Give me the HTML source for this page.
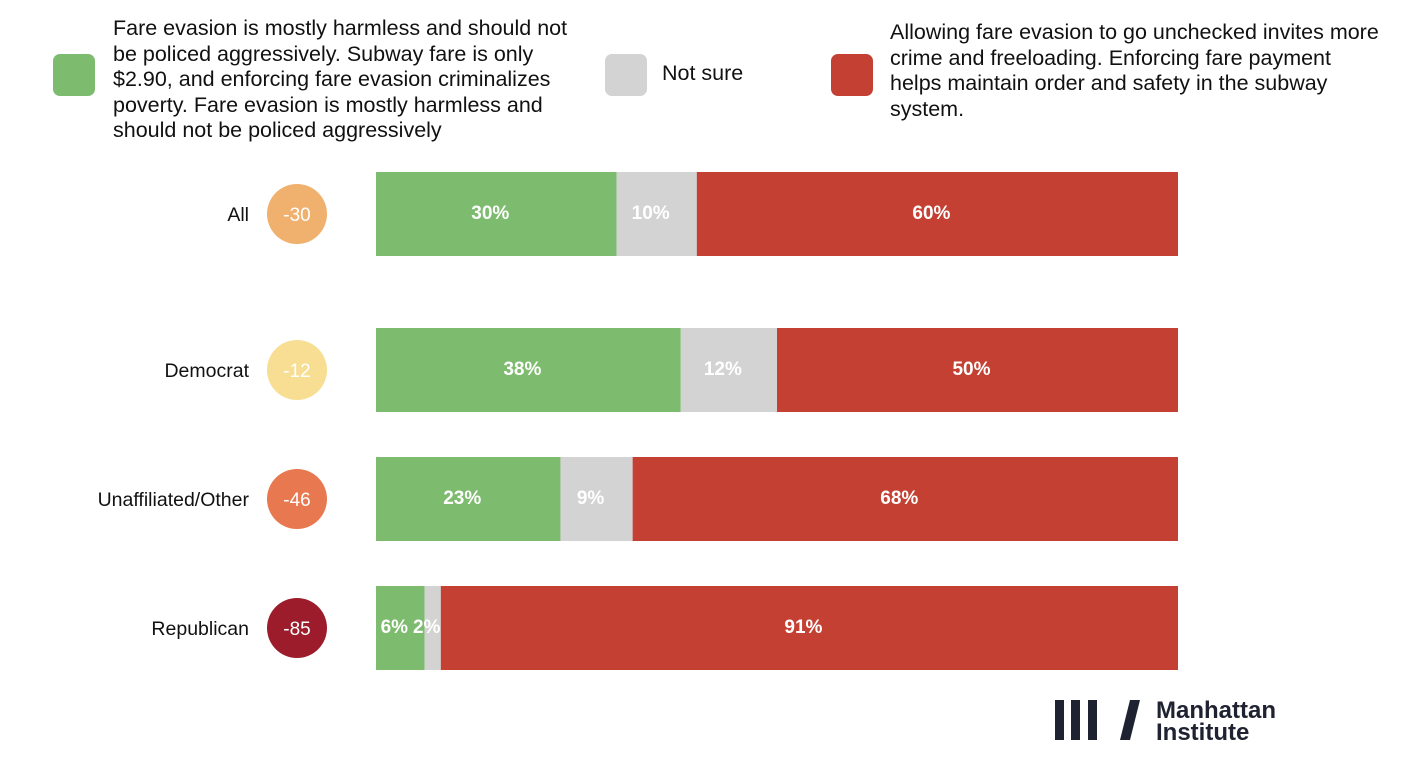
<!DOCTYPE html>
<html><head><meta charset="utf-8"><style>
body{margin:0;background:#fff;width:1410px;height:782px;overflow:hidden;font-family:"Liberation Sans",Arial,sans-serif}
.leg{position:absolute;font-size:21.5px;line-height:25.5px;color:#111}
.sw{position:absolute;width:42px;height:42px;border-radius:7px}
</style></head><body>
<div class="sw" style="left:53px;top:54px;background:#7dbb6e"></div>
<div class="leg" style="left:113px;top:16px;width:462px">Fare evasion is mostly harmless and should not be policed aggressively. Subway fare is only $2.90, and enforcing fare evasion criminalizes poverty. Fare evasion is mostly harmless and should not be policed aggressively</div>
<div class="sw" style="left:605px;top:54px;background:#d3d3d3"></div>
<div class="leg" style="left:662px;top:61px">Not sure</div>
<div class="sw" style="left:831px;top:54px;background:#c44033"></div>
<div class="leg" style="left:890px;top:20px;width:492px">Allowing fare evasion to go unchecked invites more crime and freeloading. Enforcing fare payment helps maintain order and safety in the subway system.</div>
<svg id="chart" width="1410" height="782" style="position:absolute;left:0;top:0"></svg>
<svg width="1410" height="782" style="position:absolute;left:0;top:0">
<rect x="1055" y="700" width="9" height="40" fill="#1f2230"/>
<rect x="1071" y="700" width="9" height="40" fill="#1f2230"/>
<rect x="1088" y="700" width="9" height="40" fill="#1f2230"/>
<polygon points="1130,700 1140,700 1130,740 1120,740" fill="#1f2230"/>
<text x="1156" y="718" font-size="24" font-weight="bold" fill="#1f2230">Manhattan</text>
<text x="1156" y="740" font-size="24" font-weight="bold" fill="#1f2230">Institute</text>
</svg>
<script>
const categories=["All","Democrat","Unaffiliated/Other","Republican"];
const harmless=[30,38,23,6];
const notSure=[10,12,9,2];
const enforce=[60,50,68,91];
const netScores=[-30,-12,-46,-85];
const rowTops=[172,328,457,586];
const circleColors=["#f0b06e","#f7de93","#e8784f","#9c1c2b"];
const svg=document.getElementById('chart');
const NS='http://www.w3.org/2000/svg';
const x0=376,W=802,H=84;
function mk(t,a){const e=document.createElementNS(NS,t);for(const k in a)e.setAttribute(k,a[k]);svg.appendChild(e);return e;}
categories.forEach((c,i)=>{
  const y=rowTops[i];
  const tot=harmless[i]+notSure[i]+enforce[i];
  const sx=v=>v/tot*W;
  let x=x0;
  [[harmless,'#7dbb6e','harmless'],[notSure,'#d3d3d3','not-sure'],[enforce,'#c44033','enforce']].forEach(([arr,col,nm])=>{
    const w=sx(arr[i]);
    const r=mk('rect',{x:x,y:y,width:w,height:H,fill:col});
    
    
    const t=mk('text',{x:x+w/2-6,y:y+H/2+5,'text-anchor':'middle','font-size':19,'font-weight':'bold',fill:'#fff'});
    t.textContent=arr[i]+'%';
    
    
    x+=w;
  });
  const l=mk('text',{x:249,y:y+H/2+7,'text-anchor':'end','font-size':19.5,fill:'#111'});
  l.textContent=c;
  
  
  const ci=mk('circle',{cx:297,cy:y+H/2,r:30,fill:circleColors[i]});
  
  
  const ct=mk('text',{x:297,y:y+H/2+7,'text-anchor':'middle','font-size':19,fill:'#fff'});
  ct.textContent=netScores[i];
  
  
});
</script>
</body></html>
